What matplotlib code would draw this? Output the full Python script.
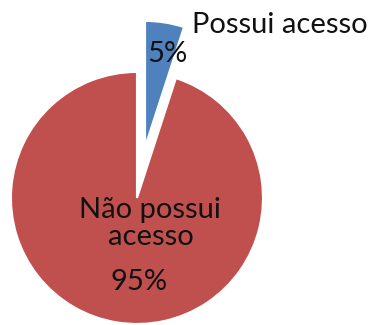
import matplotlib
matplotlib.use("Agg")
import matplotlib.pyplot as plt

# data
categories = ["Possui acesso", "Não possui acesso"]
values = [5, 95]
colors = ["#4F81BD", "#C0504D"]
explode = [0.41, 0]

plt.rcParams['font.family'] = ['Lato', 'DejaVu Sans']

fig = plt.figure(figsize=(3.74, 3.25), dpi=100)
ax = fig.add_axes([0, 0, 1, 1])

wedges, _ = ax.pie(values, colors=colors, explode=explode, startangle=90,
                   counterclock=False, radius=1.0,
                   wedgeprops=dict(edgecolor='white', linewidth=1.5))

ax.set_xlim(-1.087, 1.881)
ax.set_ylim(-1.008, 1.571)
ax.set_aspect('equal')
ax.axis('off')

fs = 21
# small slice: label outside, percentage near tip
ax.text(1.135, 1.31, categories[0], ha='center', va='baseline', fontsize=fs, color='#111111')
ax.text(0.238, 1.079, f"{values[0]}%", ha='center', va='baseline', fontsize=fs, color='#111111')

# big slice: label inside
first, second = categories[1].rsplit(" ", 1)
ax.text(0.103, -0.159, first, ha='center', va='baseline', fontsize=fs, color='#111111')
ax.text(0.111, -0.373, second, ha='center', va='baseline', fontsize=fs, color='#111111')
ax.text(0.02, -0.73, f"{values[1]}%", ha='center', va='baseline', fontsize=fs, color='#111111')

fig.savefig("out.png", dpi=100)
